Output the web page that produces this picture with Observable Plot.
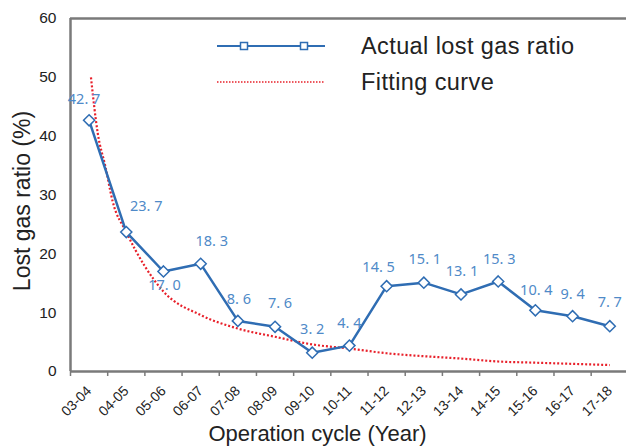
<!DOCTYPE html>
<html>
<head>
<meta charset="utf-8">
<script src="https://cdn.jsdelivr.net/npm/d3@7"></script>
<script src="https://cdn.jsdelivr.net/npm/@observablehq/plot@0.6"></script>
<style>
  html, body { margin: 0; padding: 0; background: #fff; }
  #chart { position: relative; width: 626px; height: 448px; }
  svg { font-family: "Liberation Sans", Arial, sans-serif; }
</style>
</head>
<body>
<div id="chart"></div>
<script>
// ---- data ----
const cycles = ["03-04","04-05","05-06","06-07","07-08","08-09","09-10","10-11","11-12","12-13","13-14","14-15","15-16","16-17","17-18"];
const actualRatio = [42.7, 23.7, 17.0, 18.3, 8.6, 7.6, 3.2, 4.4, 14.5, 15.1, 13.1, 15.3, 10.4, 9.4, 7.7];
const fitIndex = [0.05, 0.23, 0.44, 0.63, 1, 2, 3, 4, 5, 6, 7, 8, 9, 10, 11, 12, 13, 14];
const fitRatio = [50, 40.6, 34.8, 29.0, 23.7, 13.6, 9.6, 7.3, 5.9, 4.6, 3.9, 3.1, 2.6, 2.2, 1.7, 1.5, 1.3, 1.1];
const yTicks = [0, 10, 20, 30, 40, 50, 60];
const seriesNames = ["Actual lost gas ratio", "Fitting curve"];

// label offsets (layout only)
const labelDx = [-5, 20, 1, 11, 1, 5, 0, 0, -8, 1, 1, 1, 1, 0, 0];
const labelDy = [-21, -26, 14, -22, -22, -23, -23, -22, -19, -23, -23, -22, -20, -22, -24];

const actual = actualRatio.map((v, i) => ({i, v, cat: cycles[i], dx: labelDx[i], dy: labelDy[i]}));
const fit = fitIndex.map((x, k) => ({x, v: fitRatio[k]}));
const bounds = d3.range(cycles.length).map(i => i - 0.5);

const blue = "#2f6db3";
const labelBlue = "#4f8ac8";
const red = "#e8202a";
const axisGray = "#7a7a7a";

const labelMarks = actual.map(d => Plot.text([d], {
  x: "i", y: "v", text: d => d.v.toFixed(1).replace(".", ". "),
  dx: d.dx, dy: d.dy, fill: labelBlue, fontSize: 14.5,
  fontFamily: "'Noto Sans', 'DejaVu Sans', sans-serif"
}));

const plot = Plot.plot({
  width: 626,
  height: 448,
  marginLeft: 70,
  marginRight: 0,
  marginTop: 18,
  marginBottom: 77,
  x: {type: "linear", domain: [-0.5, 14.45], axis: null},
  y: {domain: [0, 60], axis: null},
  marks: [
    Plot.axisY(yTicks, {tickSize: 0, tickPadding: 14, fontSize: 15.5, fill: "#222", label: null}),
    Plot.axisX(bounds, {tickSize: 5, tickFormat: () => "", stroke: axisGray, strokeWidth: 1.5, label: null}),
    Plot.axisX(d3.range(cycles.length), {tickSize: 0, tickPadding: 17, tickRotate: -45, tickFormat: i => cycles[i], fontSize: 14, fill: "#222", label: null}),
    Plot.ruleX([-0.5], {stroke: axisGray, strokeWidth: 2.5}),
    Plot.ruleY([0, 60], {stroke: axisGray, strokeWidth: 2.5}),
    Plot.line(fit, {x: "x", y: "v", curve: "monotone-x", stroke: red, strokeWidth: 2.2, strokeDasharray: "2,2", strokeLinecap: "butt"}),
    Plot.line(actual, {x: "i", y: "v", stroke: blue, strokeWidth: 2.5}),
    Plot.dot(actual, {x: "i", y: "v", symbol: "diamond2", r: 5, stroke: blue, strokeWidth: 1.5, fill: "white"}),
    ...labelMarks,
    Plot.text(["Lost gas ratio (%)"], {frameAnchor: "left", textAnchor: "middle", lineAnchor: "middle", rotate: -90, dx: -48, dy: 6, fontSize: 23, fill: "#222", letterSpacing: "0.5px"}),
    Plot.text(["Operation cycle (Year)"], {frameAnchor: "bottom", textAnchor: "middle", lineAnchor: "middle", dx: -31, dy: 62, fontSize: 22, fill: "#222", letterSpacing: "0.6px"})
  ]
});

// legend
const svg = d3.select(plot);
const lg = svg.append("g").attr("text-anchor", "start");
lg.append("line").attr("x1", 217).attr("x2", 325).attr("y1", 46).attr("y2", 46)
  .attr("stroke", blue).attr("stroke-width", 2);
[244, 304].forEach(x => lg.append("rect").attr("x", x - 3.5).attr("y", 42.5).attr("width", 7).attr("height", 7)
  .attr("fill", "white").attr("stroke", blue).attr("stroke-width", 1.5));
lg.append("line").attr("x1", 217).attr("x2", 325).attr("y1", 82).attr("y2", 82)
  .attr("stroke", red).attr("stroke-width", 1.5).attr("stroke-dasharray", "1.5,1.5");
lg.append("text").attr("x", 361).attr("y", 46).attr("dy", "0.35em").attr("font-size", 23.5).attr("letter-spacing", "0.4px").attr("fill", "#222").text(seriesNames[0]);
lg.append("text").attr("x", 361).attr("y", 82).attr("dy", "0.35em").attr("font-size", 23.5).attr("letter-spacing", "0.4px").attr("fill", "#222").text(seriesNames[1]);

document.getElementById("chart").appendChild(plot);
</script>
</body>
</html>
